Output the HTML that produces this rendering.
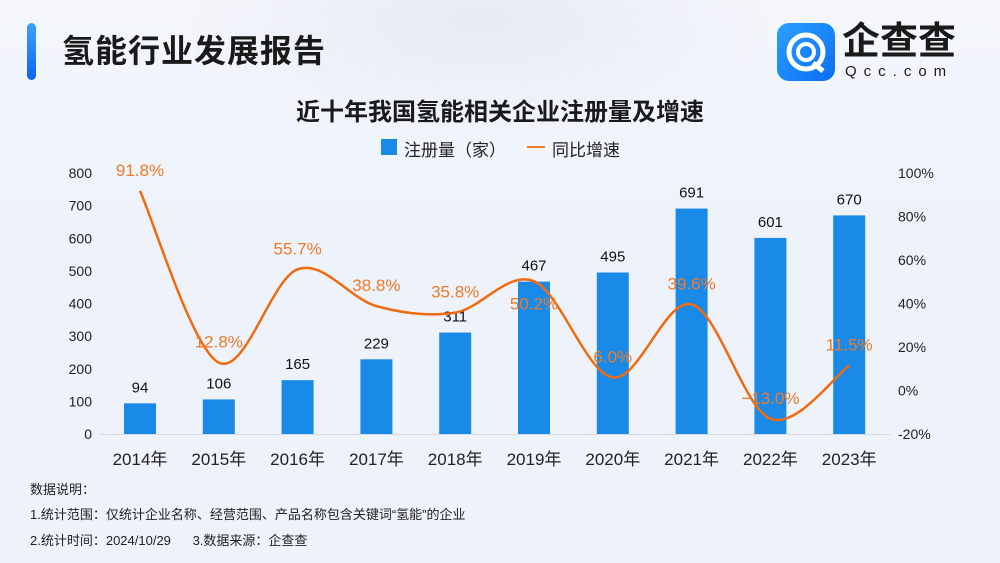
<!DOCTYPE html>
<html><head><meta charset="utf-8"><style>
body{margin:0;width:1000px;height:563px;overflow:hidden;font-family:"Liberation Sans","Noto Sans CJK SC",sans-serif;background:radial-gradient(ellipse 300px 120px at 480px 20px,#e6ebf3,transparent),linear-gradient(180deg,#f4f6fb,#eef3fb 40%,#edf2fb);position:relative}
.a{position:absolute;white-space:nowrap}
</style></head><body>
<div class="a" style="left:27px;top:23px;width:9px;height:57px;border-radius:5px;background:linear-gradient(#3fa3ff,#0a64f0)"></div>
<div class="a" style="left:62px;top:26px;font-size:32px;font-weight:bold;color:#1a1a1a;letter-spacing:1px">氢能行业发展报告</div>
<div class="a" style="left:777px;top:23px;width:58px;height:58px;border-radius:12px;background:linear-gradient(135deg,#2aa0ff,#0b6ef2)">
<svg width="58" height="58"><circle cx="29" cy="29" r="17" fill="none" stroke="#fff" stroke-width="5"/><circle cx="29" cy="29" r="8" fill="none" stroke="#fff" stroke-width="4"/><path d="M36 40 L46 48" stroke="#fff" stroke-width="5"/></svg></div>
<div class="a" style="left:842px;top:22px;font-size:38px;font-weight:bold;color:#1a1a1a;line-height:40px">企查查</div>
<div class="a" style="left:845px;top:64px;font-size:15px;color:#1a1a1a;letter-spacing:7px;line-height:16px">Qcc.com</div>
<div class="a" style="left:0;width:1000px;text-align:center;top:92px;font-size:24px;font-weight:bold;color:#1a1a1a">近十年我国氢能相关企业注册量及增速</div>
<div class="a" style="left:381px;top:139px;width:16px;height:16px;background:#1a8ae8"></div>
<div class="a" style="left:404px;top:136px;font-size:17px;color:#222">注册量（家）</div>
<div class="a" style="left:527px;top:146px;width:18px;height:2px;background:#f07a26"></div>
<div class="a" style="left:552px;top:136px;font-size:17px;color:#222">同比增速</div>
<svg class="a" style="left:0;top:0" width="1000" height="563" id="s"></svg>
<div class="a" style="left:30px;top:479px;font-size:13px;color:#222">数据说明：</div>
<div class="a" style="left:30px;top:504px;font-size:13px;color:#222">1.统计范围：仅统计企业名称、经营范围、产品名称包含关键词“氢能”的企业</div>
<div class="a" style="left:30px;top:530px;font-size:13px;color:#222">2.统计时间：2024/10/29&nbsp;&nbsp;&nbsp;&nbsp;&nbsp;&nbsp;3.数据来源：企查查</div>
<script>
var s=document.getElementById('s'),h='';
var v=[94,106,165,229,311,467,495,691,601,670],p=[91.8,12.8,55.7,38.8,35.8,50.2,6.0,39.6,-13.0,11.5];
var base=434,k=261/800;
for(var i=0;i<=8;i++){var y=base-i*100*k;h+='<text x="92" y="'+(y+5)+'" text-anchor="end" font-size="14" fill="#222">'+i*100+'</text>';}
for(var i=0;i<7;i++){var y=base-i*20*261/120;h+='<text x="898" y="'+(y+5)+'" font-size="14" fill="#222">'+(i*20-20)+'%</text>';}
h+='<line x1="100" y1="434.5" x2="890" y2="434.5" stroke="#d6dbe3"/>';
var pts=[];
for(var i=0;i<10;i++){var cx=140+i*78.8,bh=v[i]*k;
h+='<rect x="'+(cx-16)+'" y="'+(base-bh)+'" width="32" height="'+bh+'" fill="#1a8ae8"/>';
h+='<text x="'+cx+'" y="'+(base-bh-11)+'" text-anchor="middle" font-size="15" fill="#111">'+v[i]+'</text>';
h+='<text x="'+cx+'" y="'+(base+31)+'" text-anchor="middle" font-size="17" fill="#222" font-family="Liberation Sans,Noto Sans CJK SC,sans-serif">'+(2014+i)+'年</text>';
pts.push([cx,390.5-p[i]*2.175]);}
var d='M'+pts[0][0]+' '+pts[0][1];
for(var i=0;i<9;i++){var p0=pts[Math.max(i-1,0)],p1=pts[i],p2=pts[i+1],p3=pts[Math.min(i+2,9)];
d+=' C'+(p1[0]+(p2[0]-p0[0])/6)+' '+(p1[1]+(p2[1]-p0[1])/6)+' '+(p2[0]-(p3[0]-p1[0])/6)+' '+(p2[1]-(p3[1]-p1[1])/6)+' '+p2[0]+' '+p2[1];}
h+='<path d="'+d+'" fill="none" stroke="#f06a10" stroke-width="2.5"/>';
for(var i=0;i<10;i++){var dy=(i==5)?28:-15;h+='<text x="'+pts[i][0]+'" y="'+(pts[i][1]+dy)+'" text-anchor="middle" font-size="17" fill="#f07a26">'+(p[i]<0?'−':'')+Math.abs(p[i]).toFixed(1)+'%</text>';}
s.innerHTML=h;
</script>
</body></html>
